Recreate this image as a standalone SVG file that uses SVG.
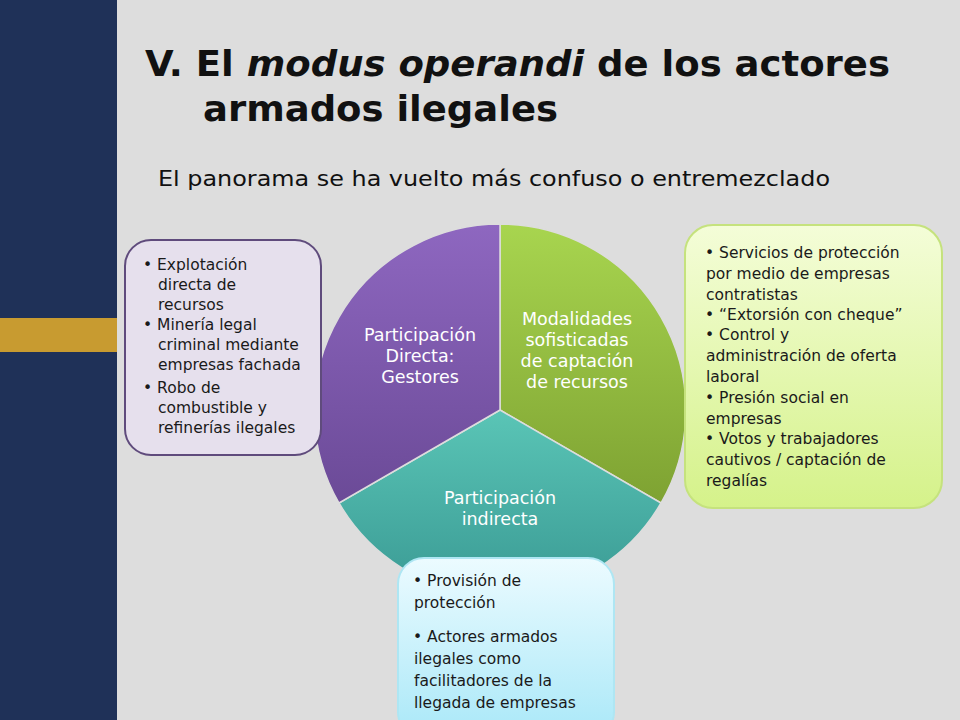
<svg xmlns="http://www.w3.org/2000/svg" width="960" height="720" viewBox="0 0 960 720">
<style>
.t{font-family:"DejaVu Sans",Verdana,sans-serif;fill:#1a1a1a;font-size:15.5px}
.p{font-family:"DejaVu Sans",Verdana,sans-serif;fill:#fff;font-size:17.5px;text-anchor:middle}
</style>
<defs>
<linearGradient id="gP" x1="0" y1="0" x2="0" y2="1"><stop offset="0" stop-color="#8e67c0"/><stop offset="1" stop-color="#6b4a97"/></linearGradient>
<linearGradient id="gG" x1="0" y1="0" x2="0" y2="1"><stop offset="0" stop-color="#a8d54f"/><stop offset="1" stop-color="#7ea232"/></linearGradient>
<linearGradient id="gT" x1="0" y1="0" x2="0" y2="1"><stop offset="0" stop-color="#5ac5b6"/><stop offset="1" stop-color="#3a9a94"/></linearGradient>
<linearGradient id="gR" x1="0" y1="0" x2="0" y2="1"><stop offset="0" stop-color="#f4fdd8"/><stop offset="1" stop-color="#d5f28a"/></linearGradient>
<linearGradient id="gB" x1="0" y1="0" x2="0" y2="1"><stop offset="0" stop-color="#ecfbff"/><stop offset="1" stop-color="#a9e8f8"/></linearGradient>
</defs>
<rect width="960" height="720" fill="#dddddd"/>
<rect width="117" height="720" fill="#1f3158"/>
<rect y="318" width="117" height="34" fill="#c89b30"/>
<text x="145" y="76" font-family="DejaVu Sans,Verdana,sans-serif" font-weight="bold" font-size="35" fill="#111" textLength="745" lengthAdjust="spacingAndGlyphs">V. El <tspan font-style="italic">modus operandi</tspan> de los actores</text>
<text x="203" y="121" font-family="DejaVu Sans,Verdana,sans-serif" font-weight="bold" font-size="35" fill="#111" textLength="355" lengthAdjust="spacingAndGlyphs">armados ilegales</text>
<text x="158" y="186" font-family="DejaVu Sans,Verdana,sans-serif" font-size="21" fill="#111" textLength="672" lengthAdjust="spacingAndGlyphs">El panorama se ha vuelto más confuso o entremezclado</text>
<g id="pie" stroke="#dddddd" stroke-width="1.5">
<path d="M500,410 L500,224 A186,186 0 0 1 661,503 Z" fill="url(#gG)"/>
<path d="M500,410 L661,503 A186,186 0 0 1 339,503 Z" fill="url(#gT)"/>
<path d="M500,410 L339,503 A186,186 0 0 1 500,224 Z" fill="url(#gP)"/>
</g>
<g id="labels">
<text class="p" x="420" y="341">Participación</text>
<text class="p" x="420" y="362">Directa:</text>
<text class="p" x="420" y="383">Gestores</text>
<text class="p" x="577" y="325">Modalidades</text>
<text class="p" x="577" y="346">sofisticadas</text>
<text class="p" x="577" y="367">de captación</text>
<text class="p" x="577" y="388">de recursos</text>
<text class="p" x="500" y="504">Participación</text>
<text class="p" x="500" y="525">indirecta</text>
</g>
<g id="left">
<rect x="125" y="240" width="196" height="215" rx="26" fill="#e6e0ed" stroke="#5f4b7c" stroke-width="2"/>
<text class="t" x="143" y="270">• Explotación</text>
<text class="t" x="158" y="290">directa de</text>
<text class="t" x="158" y="310">recursos</text>
<text class="t" x="143" y="330">• Minería legal</text>
<text class="t" x="158" y="350">criminal mediante</text>
<text class="t" x="158" y="370">empresas fachada</text>
<text class="t" x="143" y="393">• Robo de</text>
<text class="t" x="158" y="413">combustible y</text>
<text class="t" x="158" y="433">refinerías ilegales</text>
</g>
<g id="right">
<rect x="685" y="225" width="257" height="283" rx="28" fill="url(#gR)" stroke="#c5e27d" stroke-width="2"/>
<text class="t" x="705" y="258">• Servicios de protección</text>
<text class="t" x="706" y="279">por medio de empresas</text>
<text class="t" x="706" y="300">contratistas</text>
<text class="t" x="705" y="320">• “Extorsión con cheque”</text>
<text class="t" x="705" y="340">• Control y</text>
<text class="t" x="706" y="361">administración de oferta</text>
<text class="t" x="706" y="382">laboral</text>
<text class="t" x="705" y="403">• Presión social en</text>
<text class="t" x="706" y="424">empresas</text>
<text class="t" x="705" y="444">• Votos y trabajadores</text>
<text class="t" x="706" y="465">cautivos / captación de</text>
<text class="t" x="706" y="486">regalías</text>
</g>
<g id="bottom">
<rect x="398" y="558" width="216" height="180" rx="26" fill="url(#gB)" stroke="#aee6f3" stroke-width="2"/>
<text class="t" x="413" y="586">• Provisión de</text>
<text class="t" x="414" y="608">protección</text>
<text class="t" x="413" y="642">• Actores armados</text>
<text class="t" x="414" y="664">ilegales como</text>
<text class="t" x="414" y="686">facilitadores de la</text>
<text class="t" x="414" y="708">llegada de empresas</text>
</g>
</svg>
